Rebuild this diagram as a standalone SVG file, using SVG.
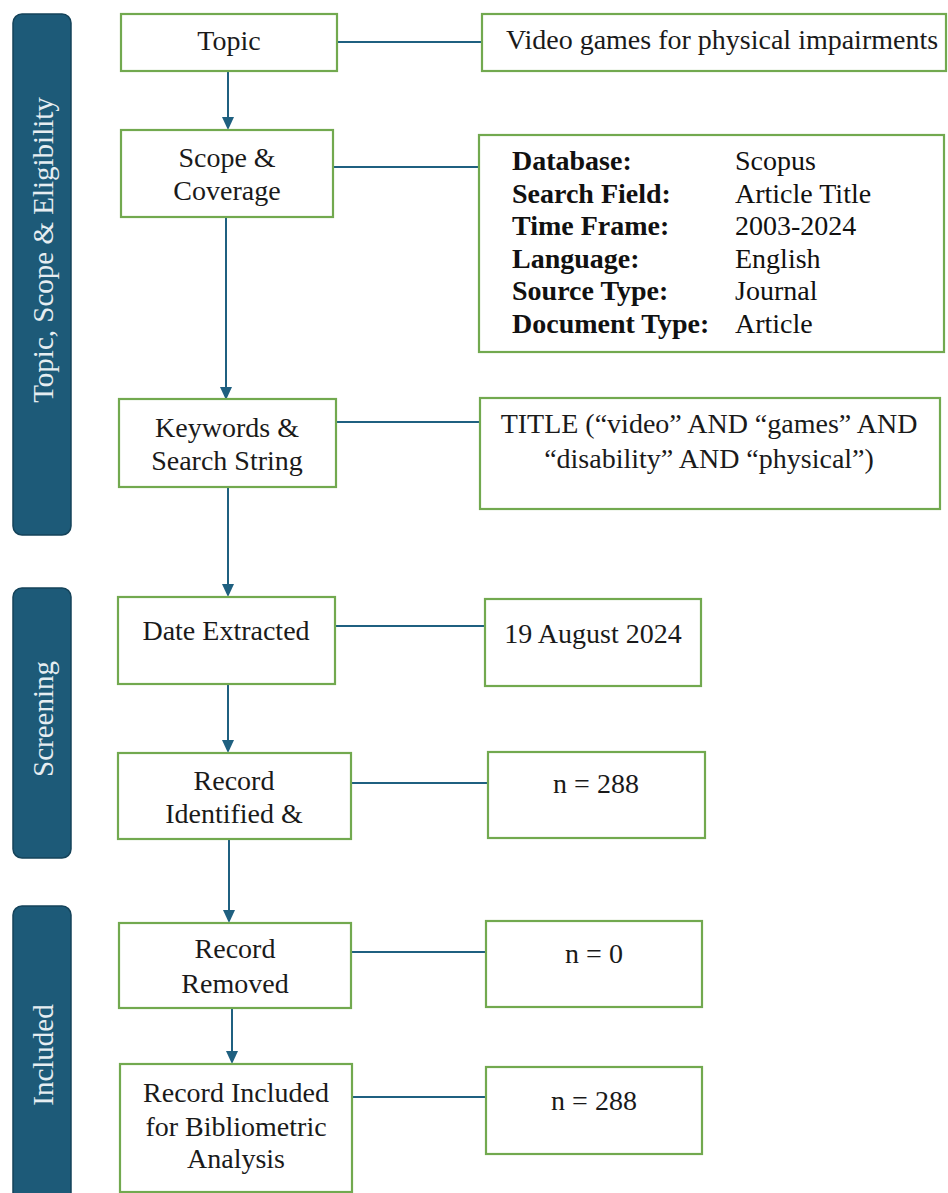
<svg xmlns="http://www.w3.org/2000/svg" width="948" height="1193" viewBox="0 0 948 1193">
<style>
.box{fill:#fff;stroke:#72a94f;stroke-width:2.2}
.bar{fill:#1d5a78;stroke:#14435a;stroke-width:1.5}
.t{font-family:"Liberation Serif","Times New Roman",serif;font-size:28px;fill:#1a1a1a;text-anchor:middle}
.l{font-family:"Liberation Serif","Times New Roman",serif;font-size:28px;fill:#111}
.b{font-weight:bold}
.side{font-family:"Liberation Serif","Times New Roman",serif;font-size:29px;fill:#e6edf1;text-anchor:middle}
.c{stroke:#1f6080;stroke-width:2;fill:none}
.ah{fill:#1f6080}
</style>
<rect width="948" height="1193" fill="#fff"/>

<g id="bar-topic"><rect class="bar" x="13" y="14" width="58" height="521" rx="9"/>
<text class="side" transform="translate(53,250) rotate(-90)">Topic, Scope &amp; Eligibility</text></g>
<g id="bar-screening"><rect class="bar" x="13" y="588" width="58" height="270" rx="9"/>
<text class="side" transform="translate(53,719) rotate(-90)">Screening</text></g>
<g id="bar-included"><rect class="bar" x="13" y="906" width="58" height="300" rx="9"/>
<text class="side" transform="translate(53,1055) rotate(-90)">Included</text></g>

<g id="connectors">
<line class="c" x1="228" y1="71" x2="228" y2="117"/>
<path class="ah" d="M222,117 L234,117 L228,130 Z"/>
<line class="c" x1="226" y1="217" x2="226" y2="387"/>
<path class="ah" d="M220,387 L232,387 L226,400 Z"/>
<line class="c" x1="228" y1="487" x2="228" y2="584"/>
<path class="ah" d="M222,584 L234,584 L228,597 Z"/>
<line class="c" x1="228" y1="684" x2="228" y2="740"/>
<path class="ah" d="M222,740 L234,740 L228,753 Z"/>
<line class="c" x1="229" y1="839" x2="229" y2="910"/>
<path class="ah" d="M223,910 L235,910 L229,923 Z"/>
<line class="c" x1="232" y1="1008" x2="232" y2="1051"/>
<path class="ah" d="M226,1051 L238,1051 L232,1064 Z"/>
<line class="c" x1="337" y1="42" x2="482" y2="42"/>
<line class="c" x1="333" y1="167" x2="479" y2="167"/>
<line class="c" x1="336" y1="422" x2="480" y2="422"/>
<line class="c" x1="335" y1="626" x2="485" y2="626"/>
<line class="c" x1="351" y1="783" x2="488" y2="783"/>
<line class="c" x1="351" y1="952" x2="486" y2="952"/>
<line class="c" x1="352" y1="1097" x2="486" y2="1097"/>
</g>

<g id="n-topic"><rect class="box" x="121" y="14" width="216" height="57"/>
<text class="t" x="229" y="50">Topic</text></g>
<g id="n-scope"><rect class="box" x="121" y="130" width="212" height="87"/>
<text class="t" x="227" y="167">Scope &amp;</text><text class="t" x="227" y="200">Coverage</text></g>
<g id="n-keywords"><rect class="box" x="119" y="399" width="217" height="88"/>
<text class="t" x="227" y="437">Keywords &amp;</text><text class="t" x="227" y="470">Search String</text></g>
<g id="n-date"><rect class="box" x="118" y="597" width="217" height="87"/>
<text class="t" x="226" y="640">Date Extracted</text></g>
<g id="n-identified"><rect class="box" x="118" y="753" width="233" height="86"/>
<text class="t" x="234" y="790">Record</text><text class="t" x="234" y="823">Identified &amp;</text></g>
<g id="n-removed"><rect class="box" x="119" y="923" width="232" height="85"/>
<text class="t" x="235" y="958">Record</text><text class="t" x="235" y="993">Removed</text></g>
<g id="n-included"><rect class="box" x="120" y="1064" width="232" height="128"/>
<text class="t" x="236" y="1102">Record Included</text><text class="t" x="236" y="1136">for Bibliometric</text><text class="t" x="236" y="1168">Analysis</text></g>

<g id="n-topic-val"><rect class="box" x="482" y="14" width="464" height="57"/>
<text class="t" x="722" y="49">Video games for physical impairments</text></g>
<g id="n-scope-val"><rect class="box" x="479" y="135" width="465" height="217"/>
<text class="l b" x="512" y="170">Database:</text><text class="l" x="735" y="170">Scopus</text>
<text class="l b" x="512" y="202.5">Search Field:</text><text class="l" x="735" y="202.5">Article Title</text>
<text class="l b" x="512" y="235">Time Frame:</text><text class="l" x="735" y="235">2003-2024</text>
<text class="l b" x="512" y="267.5">Language:</text><text class="l" x="735" y="267.5">English</text>
<text class="l b" x="512" y="300">Source Type:</text><text class="l" x="735" y="300">Journal</text>
<text class="l b" x="512" y="332.5">Document Type:</text><text class="l" x="735" y="332.5">Article</text></g>
<g id="n-search-val"><rect class="box" x="480" y="398" width="460" height="111"/>
<text class="t" x="709" y="433">TITLE (“video” AND “games” AND</text><text class="t" x="709" y="468">“disability” AND “physical”)</text></g>
<g id="n-date-val"><rect class="box" x="485" y="599" width="216" height="87"/>
<text class="t" x="593" y="643">19 August 2024</text></g>
<g id="n-identified-val"><rect class="box" x="488" y="752" width="217" height="86"/>
<text class="t" x="596" y="793">n = 288</text></g>
<g id="n-removed-val"><rect class="box" x="486" y="921" width="216" height="86"/>
<text class="t" x="594" y="963">n = 0</text></g>
<g id="n-included-val"><rect class="box" x="486" y="1067" width="216" height="87"/>
<text class="t" x="594" y="1110">n = 288</text></g>
</svg>
